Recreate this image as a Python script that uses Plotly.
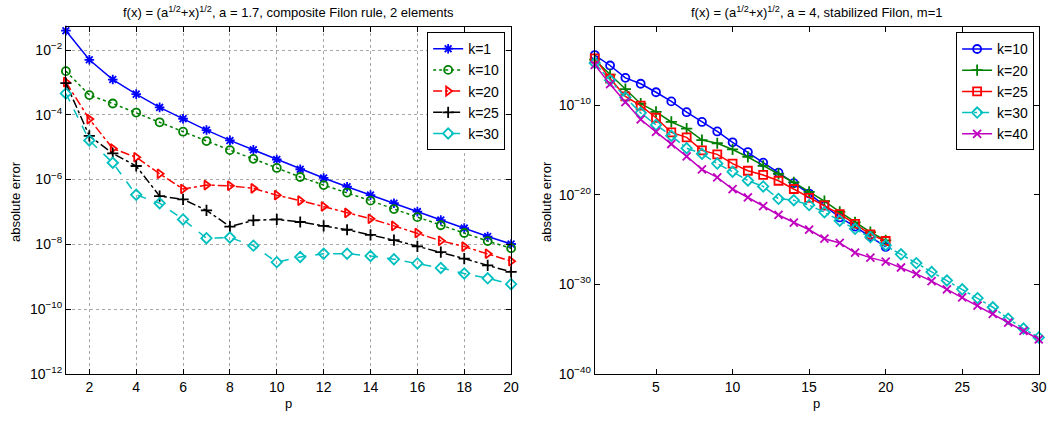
import plotly.graph_objects as go

# ---------------- data (log10 of absolute error) ----------------
p_left = list(range(1, 21))
left_k1 = [-1.40, -2.30, -2.91, -3.36, -3.77, -4.12, -4.47, -4.79, -5.08, -5.38,
           -5.68, -5.95, -6.22, -6.48, -6.73, -6.99, -7.25, -7.50, -7.76, -7.99]
left_k10 = [-2.65, -3.39, -3.65, -3.93, -4.23, -4.52, -4.81, -5.09, -5.36, -5.64,
            -5.92, -6.17, -6.40, -6.65, -6.91, -7.16, -7.41, -7.65, -7.90, -8.12]
left_k20 = [-2.99, -4.13, -5.04, -5.31, -5.82, -6.29, -6.17, -6.19, -6.27, -6.48,
            -6.65, -6.83, -7.03, -7.21, -7.43, -7.65, -7.89, -8.07, -8.29, -8.52]
left_k25 = [-3.02, -4.65, -5.19, -5.58, -6.51, -6.61, -6.95, -7.45, -7.26, -7.23,
            -7.31, -7.43, -7.55, -7.71, -7.87, -8.06, -8.24, -8.44, -8.65, -8.85]
left_k30 = [-3.34, -4.79, -5.48, -6.47, -6.73, -7.23, -7.81, -7.79, -8.04, -8.55,
            -8.39, -8.29, -8.29, -8.36, -8.46, -8.59, -8.73, -8.90, -9.05, -9.23]

p_right20 = list(range(1, 21))
p_right30 = list(range(1, 31))
right_k10 = [-4.38, -5.55, -6.93, -7.59, -8.54, -9.56, -10.77, -11.86, -12.92, -14.13,
             -15.22, -16.40, -17.52, -18.70, -19.86, -21.20, -22.53, -23.55, -24.64, -25.82]
right_k20 = [-4.90, -6.57, -8.18, -9.82, -10.73, -11.86, -12.60, -13.88, -14.24, -14.93,
             -15.77, -16.76, -17.67, -18.62, -19.68, -20.70, -21.91, -23.08, -24.17, -25.08]
right_k25 = [-4.75, -7.01, -9.01, -10.04, -11.39, -13.03, -13.58, -15.04, -15.48, -16.51,
             -17.31, -17.78, -18.43, -19.35, -20.34, -21.17, -22.16, -23.25, -24.42, -25.16]
right_k30 = [-5.26, -7.20, -9.12, -10.84, -12.19, -13.40, -14.79, -15.41, -16.51, -17.42,
             -18.40, -19.06, -20.45, -20.60, -21.15, -21.95, -22.89, -23.80, -24.72, -25.63,
             -26.65, -27.63, -28.62, -29.57, -30.56, -31.54, -32.56, -33.84, -34.94, -35.93]
right_k40 = [-5.48, -7.64, -9.64, -11.58, -12.96, -14.32, -15.70, -17.16, -18.04, -19.35,
             -20.28, -21.25, -22.25, -23.10, -23.90, -24.90, -25.38, -26.47, -27.02, -27.46,
             -28.12, -28.84, -29.65, -30.56, -31.47, -32.39, -33.30, -34.28, -35.19, -36.14]

left_xticks = [2, 4, 6, 8, 10, 12, 14, 16, 18, 20]
left_yexp = [-12, -10, -8, -6, -4, -2]
right_xticks = [5, 10, 15, 20, 25, 30]
right_yexp = [-40, -30, -20, -10]

# ---------------- figure ----------------
FONT = "Arial, Liberation Sans, Helvetica, sans-serif"
W, H = 1058, 425

def pw(v):
    return [10 ** e for e in v]

fig = go.Figure()

left_series = [
    ("k=1", left_k1, "#0000FF", "solid", "asterisk-open"),
    ("k=10", left_k10, "#008000", "dot", "circle-open"),
    ("k=20", left_k20, "#FF0000", "dashdot", "triangle-right-open"),
    ("k=25", left_k25, "#000000", "dashdot", "cross-thin-open"),
    ("k=30", left_k30, "#00BFBF", "dash", "diamond-open"),
]
for name, vals, col, dash, sym in left_series:
    fig.add_trace(go.Scatter(
        x=p_left, y=pw(vals), name=name, mode="lines+markers",
        line=dict(color=col, width=1.5, dash=dash),
        marker=dict(symbol=sym, size=8, color=col, line=dict(color=col, width=1.8)),
        xaxis="x", yaxis="y", legend="legend", cliponaxis=False))

right_series = [
    ("k=10", p_right20, right_k10, "#0000FF", "solid", "circle-open"),
    ("k=20", p_right20, right_k20, "#008000", "solid", "cross-thin-open"),
    ("k=25", p_right20, right_k25, "#FF0000", "solid", "square-open"),
    ("k=30", p_right30, right_k30, "#00BFBF", "dashdot", "diamond-open"),
    ("k=40", p_right30, right_k40, "#BF00BF", "solid", "x-thin-open"),
]
for name, xs, vals, col, dash, sym in right_series:
    fig.add_trace(go.Scatter(
        x=xs, y=pw(vals), name=name, mode="lines+markers",
        line=dict(color=col, width=1.5, dash=dash),
        marker=dict(symbol=sym, size=8, color=col, line=dict(color=col, width=1.8)),
        xaxis="x2", yaxis="y2", legend="legend2", cliponaxis=False))

ydom = [1 - 381 / H, 1 - 28 / H]
axis_common = dict(showline=True, linecolor="black", linewidth=1, mirror="ticks",
                   ticks="inside", ticklen=5, tickcolor="black", zeroline=False,
                   tickfont=dict(family=FONT, size=14, color="black"))

def sup(e):
    return "10<sup>\u2212%d</sup>" % (-e)

fig.update_layout(
    width=W, height=H,
    margin=dict(l=0, r=0, t=0, b=0),
    paper_bgcolor="white", plot_bgcolor="white",
    font=dict(family=FONT, size=13, color="black"),
    xaxis=dict(domain=[66.4 / W, 515 / W], range=[1, 20], tickvals=left_xticks,
               showgrid=True, gridcolor="#a8a8a8", griddash="dot", gridwidth=1,
               anchor="y", **axis_common),
    yaxis=dict(domain=ydom, type="log", range=[-12, -1.30103],
               tickvals=[10 ** e for e in left_yexp], ticktext=[sup(e) for e in left_yexp],
               showgrid=True, gridcolor="#a8a8a8", griddash="dot", gridwidth=1,
               anchor="x", **axis_common),
    xaxis2=dict(domain=[599.3 / W, 1046.7 / W], range=[1, 30], tickvals=right_xticks,
                showgrid=False, anchor="y2", **axis_common),
    yaxis2=dict(domain=ydom, type="log", range=[-40, -1.30103],
                tickvals=[10 ** e for e in right_yexp], ticktext=[sup(e) for e in right_yexp],
                showgrid=False, anchor="x2", **axis_common),
    legend=dict(x=509 / W, y=1 - 32.7 / H, xanchor="right", yanchor="top",
                bgcolor="white", bordercolor="black", borderwidth=1,
                font=dict(family=FONT, size=14), tracegroupgap=0,
                itemwidth=30),
    legend2=dict(x=1042 / W, y=1 - 33 / H, xanchor="right", yanchor="top",
                 bgcolor="white", bordercolor="black", borderwidth=1,
                 font=dict(family=FONT, size=14), tracegroupgap=0,
                 itemwidth=30),
    showlegend=True,
)

annotations = [
    dict(text="f(x) = (a<sup>1/2</sup>+x)<sup>1/2</sup>, a = 1.7, composite Filon rule, 2 elements",
         x=290.7 / W, y=1 - 12 / H),
    dict(text="f(x) = (a<sup>1/2</sup>+x)<sup>1/2</sup>, a = 4, stabilized Filon, m=1",
         x=823 / W, y=1 - 12 / H),
    dict(text="p", x=290.7 / W, y=1 - 411 / H),
    dict(text="p", x=823 / W, y=1 - 411 / H),
]
for a in annotations:
    fig.add_annotation(xref="paper", yref="paper", xanchor="center", yanchor="middle",
                       showarrow=False, font=dict(family=FONT, size=13, color="black"), **a)
for xx in [15, 550]:
    fig.add_annotation(xref="paper", yref="paper", x=xx / W, y=1 - 205 / H,
                       text="absolute error", textangle=-90, showarrow=False,
                       xanchor="center", yanchor="middle",
                       font=dict(family=FONT, size=13, color="black"))

fig.write_html("out.html")
